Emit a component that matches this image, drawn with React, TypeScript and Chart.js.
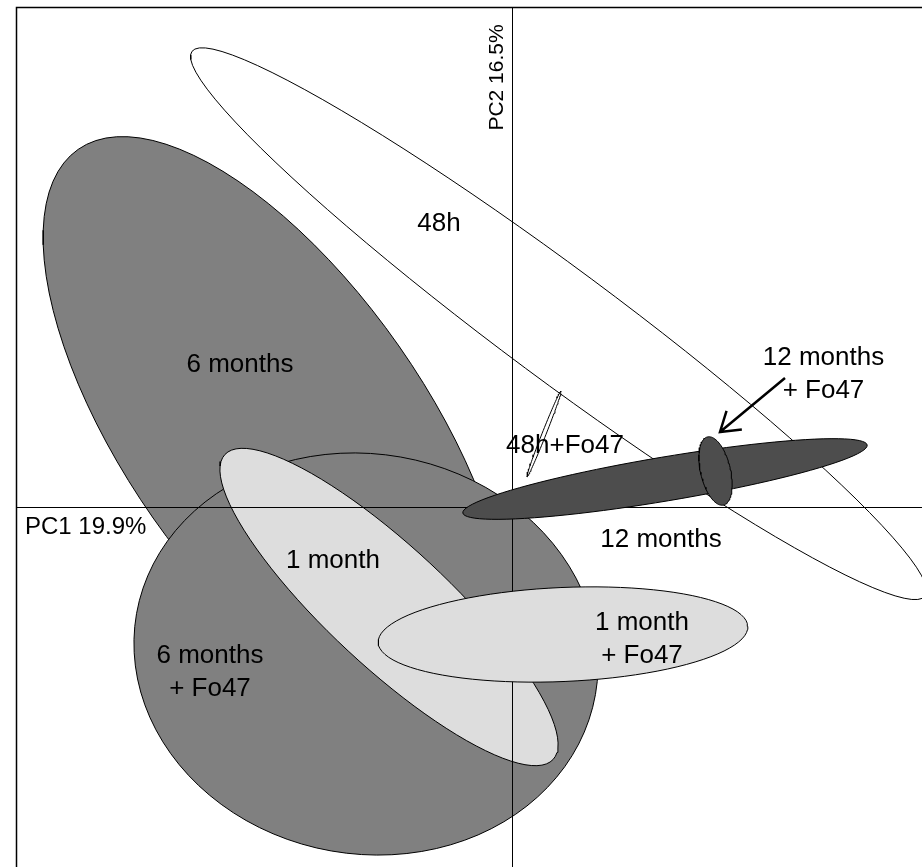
import React, { useEffect, useRef } from 'react';
import { Chart, registerables } from 'chart.js';

Chart.register(...registerables);

// ---- Data (PCA score-space ellipses; PC1 on x, PC2 on y) ----
const GROUPS = ['48h', '6 months', '6 months + Fo47', '1 month', '1 month + Fo47', '48h+Fo47', '12 months', '12 months + Fo47'];
const CENTER_PC1 = [0.461, -2.365, -1.465, -1.235, 0.505, 0.315, 1.525, 2.03];
const CENTER_PC2 = [1.838, 0.755, -1.465, -0.995, -1.27, 0.735, 0.285, 0.365];
const SEMI_MAJOR = [4.567, 3.45, 2.33, 2.24, 1.85, 0.46, 2.05, 0.35];
const SEMI_MINOR = [0.555, 1.5, 2.0, 0.6, 0.47, 0.02, 0.22, 0.15];
const ANGLE_DEG = [-36.6, -55, -10, -42.9, 2.5, -111.6, 9.55, -76.8];

const FILLS = ['#ffffff', '#808080', '#808080', '#dddddd', '#dddddd', '#ffffff', '#4d4d4d', '#4d4d4d'];

const AXIS_X_TITLE = 'PC1 19.9%';
const AXIS_Y_TITLE = 'PC2 16.5%';

const LABEL_TEXT = [['48h'], ['6 months'], ['48h+Fo47'], ['12 months', '+ Fo47'], ['12 months'], ['1 month'], ['1 month', '+ Fo47'], ['6 months', '+ Fo47']];
const LABEL_PC1 = [-0.735, -2.725, 0.525, 3.11, 1.485, -1.795, 1.295, -3.025];
const LABEL_PC2 = [2.855, 1.445, 0.635, 1.35, -0.305, -0.515, -1.3, -1.625];

const ARROW_FROM = [2.725, 1.295];
const ARROW_TO = [2.075, 0.755];

const X_MIN = -4.965, X_MAX = 4.095, Y_MIN = -3.595, Y_MAX = 5.005;
const FONT = '"Liberation Sans", Arial, sans-serif';

function ellipsePoints(i: number) {
  const pts: { x: number; y: number }[] = [];
  const n = 96;
  const phi = (ANGLE_DEG[i] * Math.PI) / 180;
  const c = Math.cos(phi), s = Math.sin(phi);
  for (let k = 0; k <= n; k++) {
    const t = (2 * Math.PI * k) / n;
    const ex = SEMI_MAJOR[i] * Math.cos(t);
    const ey = SEMI_MINOR[i] * Math.sin(t);
    pts.push({ x: CENTER_PC1[i] + ex * c - ey * s, y: CENTER_PC2[i] + ex * s + ey * c });
  }
  return pts;
}

const AXES_BEFORE = GROUPS.indexOf('1 month');

const overlayPlugin = {
  id: 'pcaOverlay',
  beforeDatasetDraw(chart: any, args: any) {
    if (args.index !== AXES_BEFORE) return;
    const { ctx, chartArea } = chart;
    const xs = chart.scales.x, ys = chart.scales.y;
    const x0 = Math.floor(xs.getPixelForValue(0)) + 0.5;
    const y0 = Math.floor(ys.getPixelForValue(0)) + 0.5;
    ctx.save();
    ctx.strokeStyle = '#000';
    ctx.lineWidth = 1;
    ctx.beginPath();
    ctx.moveTo(chartArea.left, y0);
    ctx.lineTo(chartArea.right, y0);
    ctx.moveTo(x0, chartArea.top);
    ctx.lineTo(x0, chartArea.bottom);
    ctx.stroke();
    ctx.restore();
  },
  afterDatasetsDraw(chart: any) {
    const { ctx, chartArea } = chart;
    const xs = chart.scales.x, ys = chart.scales.y;
    ctx.save();
    // frame
    ctx.strokeStyle = '#000';
    ctx.lineWidth = 1.5;
    ctx.beginPath();
    ctx.moveTo(chartArea.left + 0.5, chartArea.bottom);
    ctx.lineTo(chartArea.left + 0.5, chartArea.top + 0.5);
    ctx.lineTo(chartArea.right, chartArea.top + 0.5);
    ctx.stroke();

    // group labels
    ctx.fillStyle = '#000';
    ctx.textAlign = 'center';
    ctx.textBaseline = 'alphabetic';
    const size = 26;
    ctx.font = `${size}px ${FONT}`;
    const lh = 33;
    LABEL_TEXT.forEach((lines, i) => {
      const cx = xs.getPixelForValue(LABEL_PC1[i]);
      const cy = ys.getPixelForValue(LABEL_PC2[i]);
      const top = cy - ((lines.length - 1) * lh) / 2;
      lines.forEach((t, j) => {
        ctx.fillText(t, cx, top + j * lh + size * 0.358);
      });
    });

    // axis titles
    ctx.font = `24px ${FONT}`;
    ctx.textAlign = 'left';
    ctx.fillText(AXIS_X_TITLE, chartArea.left + 9, ys.getPixelForValue(0) + 18 + 24 * 0.358);
    ctx.save();
    ctx.font = `21px ${FONT}`;
    ctx.translate(xs.getPixelForValue(0) - 17, chartArea.top + 70.5);
    ctx.rotate(-Math.PI / 2);
    ctx.textAlign = 'center';
    ctx.fillText(AXIS_Y_TITLE, 0, 21 * 0.358);
    ctx.restore();

    // arrow
    const ax0 = xs.getPixelForValue(ARROW_FROM[0]), ay0 = ys.getPixelForValue(ARROW_FROM[1]);
    const ax1 = xs.getPixelForValue(ARROW_TO[0]), ay1 = ys.getPixelForValue(ARROW_TO[1]);
    const ang = Math.atan2(ay0 - ay1, ax0 - ax1);
    const hl = 22, ha = (33 * Math.PI) / 180;
    ctx.strokeStyle = '#000';
    ctx.lineWidth = 2.5;
    ctx.lineCap = 'butt';
    ctx.beginPath();
    ctx.moveTo(ax0, ay0);
    ctx.lineTo(ax1, ay1);
    ctx.moveTo(ax1 + hl * Math.cos(ang - ha), ay1 + hl * Math.sin(ang - ha));
    ctx.lineTo(ax1, ay1);
    ctx.lineTo(ax1 + hl * Math.cos(ang + ha), ay1 + hl * Math.sin(ang + ha));
    ctx.stroke();
    ctx.restore();
  },
};

export default function App() {
  const ref = useRef<HTMLCanvasElement | null>(null);
  useEffect(() => {
    if (!ref.current) return;
    const N = GROUPS.length;
    const chart = new Chart(ref.current, {
      type: 'scatter',
      data: {
        datasets: GROUPS.map((g, i) => ({
          label: g,
          data: ellipsePoints(i),
          showLine: true,
          fill: 'shape',
          backgroundColor: FILLS[i],
          borderColor: '#000',
          borderWidth: 1,
          pointRadius: 0,
          pointHoverRadius: 0,
          tension: 0,
          order: N - i,
          clip: false,
        })),
      } as any,
      options: {
        animation: false,
        responsive: false,
        layout: { padding: { left: 16, top: 7, right: 0, bottom: 0 } },
        plugins: { legend: { display: false }, tooltip: { enabled: false } },
        events: [],
        scales: {
          x: { type: 'linear', min: X_MIN, max: X_MAX, display: false },
          y: { type: 'linear', min: Y_MIN, max: Y_MAX, display: false },
        },
      } as any,
      plugins: [overlayPlugin],
    });
    return () => chart.destroy();
  }, []);
  return (
    <div style={{ position: 'absolute', left: 0, top: 0, width: 922, height: 867, background: '#fff', overflow: 'hidden' }}>
      <canvas ref={ref} width={922} height={867} style={{ display: 'block' }} />
    </div>
  );
}
